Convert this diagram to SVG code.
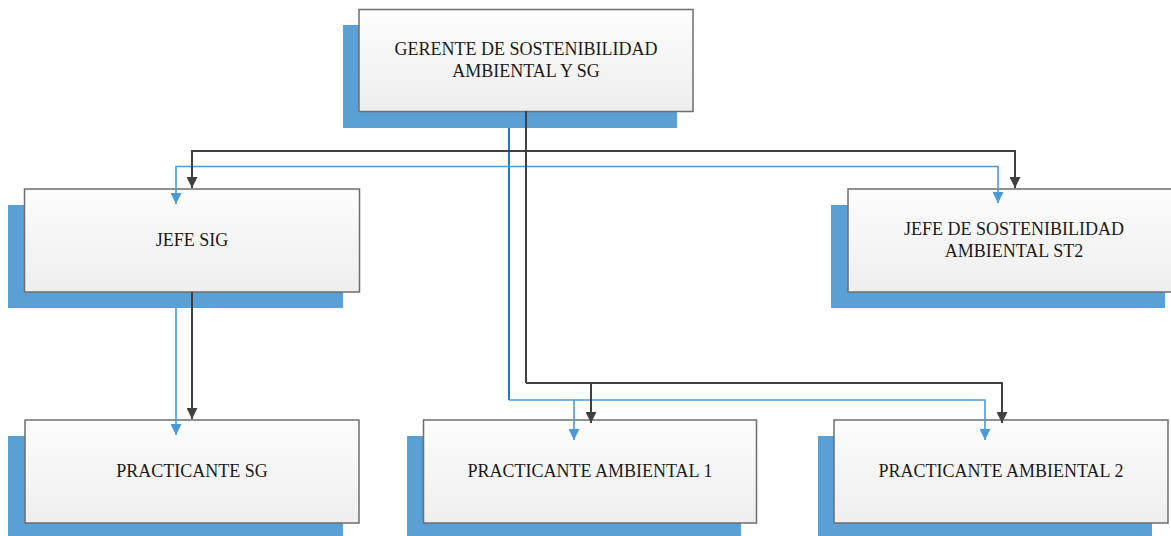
<svg xmlns="http://www.w3.org/2000/svg" width="1171" height="536" viewBox="0 0 1171 536">
<defs>
<linearGradient id="g" x1="0" y1="0" x2="0" y2="1">
<stop offset="0" stop-color="#fdfdfd"/>
<stop offset="1" stop-color="#eeeeee"/>
</linearGradient>
<marker id="ad" viewBox="0 0 10 10" refX="10" refY="5" markerWidth="11" markerHeight="11" markerUnits="userSpaceOnUse" orient="auto">
<path d="M0,0 L10,5 L0,10 Z" fill="#404040"/>
</marker>
<marker id="ab" viewBox="0 0 10 10" refX="10" refY="5" markerWidth="11" markerHeight="11" markerUnits="userSpaceOnUse" orient="auto">
<path d="M0,0 L10,5 L0,10 Z" fill="#4a9ad8"/>
</marker>
</defs>
<style>
.sh{fill:#5ba0d5}
.bx{fill:url(#g);stroke:#6e6e6e;stroke-width:1.5}
.t{font-family:"Liberation Serif","Times New Roman",serif;font-size:18px;fill:#1a1a1a;text-anchor:middle}
.dk{fill:none;stroke:#404040;stroke-width:2}
.bl{fill:none;stroke:#4a9ad8;stroke-width:1.6}
.bld{fill:none;stroke:#1f78cc;stroke-width:2}
</style>
<rect width="1171" height="536" fill="#ffffff"/>
<g id="shadows">
<rect class="sh" x="343" y="25" width="334" height="103"/>
<rect class="sh" x="8" y="205" width="335" height="103"/>
<rect class="sh" x="831" y="205" width="334" height="103"/>
<rect class="sh" x="8" y="436" width="335" height="103"/>
<rect class="sh" x="407" y="436" width="334" height="103"/>
<rect class="sh" x="818" y="436" width="334" height="103"/>
</g>
<g id="node-gerente">
<rect class="bx" x="359" y="9.5" width="334" height="102"/>
<text class="t" x="526" y="55">GERENTE DE SOSTENIBILIDAD</text>
<text class="t" x="526" y="77">AMBIENTAL Y SG</text>
</g>
<g id="node-jefe-sig">
<rect class="bx" x="24.5" y="189" width="335" height="103"/>
<text class="t" x="192" y="246">JEFE SIG</text>
</g>
<g id="node-jefe-st2">
<rect class="bx" x="848" y="189" width="334" height="103"/>
<text class="t" x="1014" y="235">JEFE DE SOSTENIBILIDAD</text>
<text class="t" x="1014" y="257">AMBIENTAL ST2</text>
</g>
<g id="node-practicante-sg">
<rect class="bx" x="25" y="420" width="334" height="103"/>
<text class="t" x="192" y="477">PRACTICANTE SG</text>
</g>
<g id="node-practicante-amb1">
<rect class="bx" x="423.5" y="420" width="333" height="103"/>
<text class="t" x="590" y="477">PRACTICANTE AMBIENTAL 1</text>
</g>
<g id="node-practicante-amb2">
<rect class="bx" x="834" y="420" width="334" height="103"/>
<text class="t" x="1001" y="477">PRACTICANTE AMBIENTAL 2</text>
</g>
<g id="connectors">
<path class="bld" d="M509 128 V400"/>
<path class="bl" d="M509 166.5 H176 V204" marker-end="url(#ab)"/>
<path class="bl" d="M509 166.5 H998 V203" marker-end="url(#ab)"/>
<path class="bl" d="M509 400 H574 V440" marker-end="url(#ab)"/>
<path class="bl" d="M574 400 H985 V440" marker-end="url(#ab)"/>
<path class="bl" d="M176 308 V435" marker-end="url(#ab)"/>
<path class="dk" d="M526 111 V383"/>
<path class="dk" d="M526 151 H192 V188" marker-end="url(#ad)"/>
<path class="dk" d="M526 151 H1015 V188" marker-end="url(#ad)"/>
<path class="dk" d="M526 383 H591 V423" marker-end="url(#ad)"/>
<path class="dk" d="M591 383 H1002 V423" marker-end="url(#ad)"/>
<path class="dk" d="M192 292 V419" marker-end="url(#ad)"/>
</g>
</svg>
